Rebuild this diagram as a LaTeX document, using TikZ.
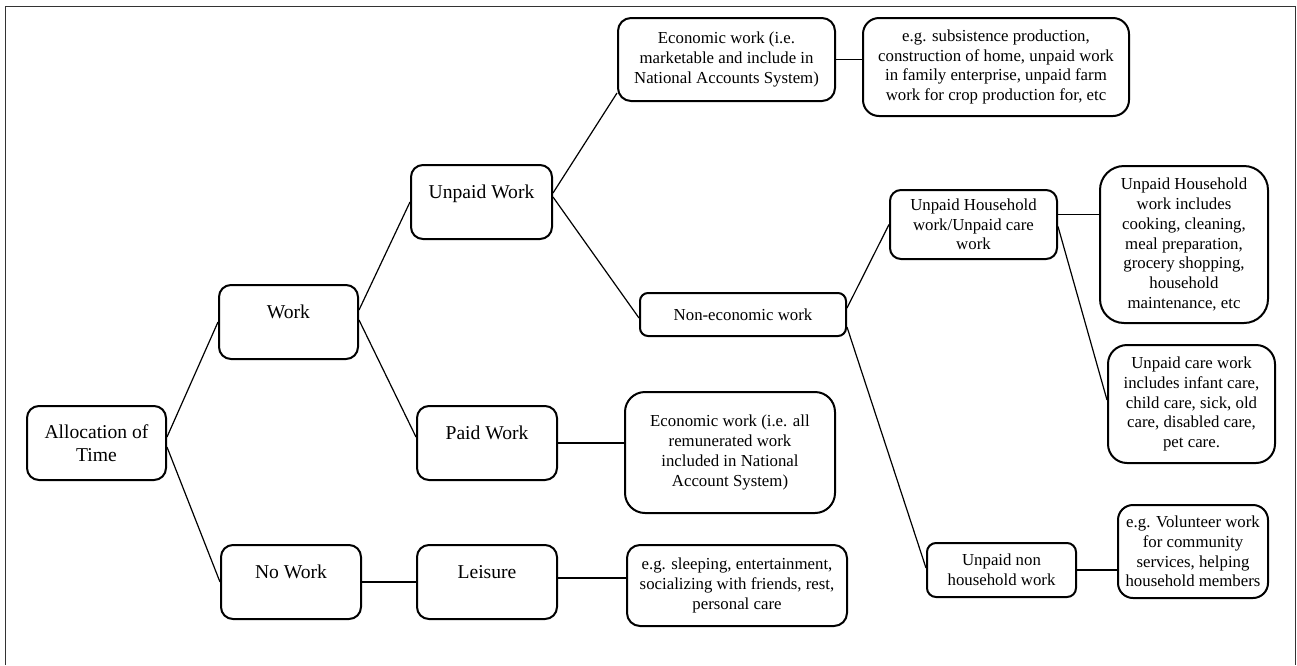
\documentclass[tikz,border=0pt]{standalone}
\usepackage{fontspec}
\setmainfont{Liberation Serif}
\begin{document}
\begin{tikzpicture}[x=0.5pt,y=-0.5pt,
  box/.style={draw, line width=1pt, inner sep=0pt, align=center},
  big/.style={font=\fontsize{9.8pt}{11.65pt}\selectfont},
  small/.style={font=\fontsize{8.4pt}{9.85pt}\selectfont},
  hi/.style={text height=6.7pt, text depth=10.3pt},
  conn/.style={line width=0.6pt}]
\useasboundingbox (0,0) rectangle (1297,665);
\draw[line width=0.5pt, black!80] (5.5,665) -- (5.5,6) -- (1295,6) -- (1295,665);

% main category boxes
\node[box,big,minimum width=69.5pt,minimum height=37pt,rounded corners=6pt] (alloc) at (96.5,443) {Allocation of\\Time};
\node[box,big,hi,minimum width=69.5pt,minimum height=37pt,rounded corners=6pt] (work) at (288.5,322) {Work};
\node[box,big,hi,minimum width=70pt,minimum height=37pt,rounded corners=6pt] (nowork) at (291,582) {No Work};
\node[box,big,hi,minimum width=70.5pt,minimum height=37pt,rounded corners=6pt] (unpaid) at (481.5,202) {Unpaid Work};
\node[box,big,hi,minimum width=70pt,minimum height=37pt,rounded corners=6pt] (paid) at (487,443) {Paid Work};
\node[box,big,hi,minimum width=70pt,minimum height=37pt,rounded corners=6pt] (leisure) at (487,582) {Leisure};

% detail boxes
\node[box,small,minimum width=108.5pt,minimum height=41.5pt,rounded corners=6.5pt] (econ) at (726.5,59.5) {Economic work (i.e.\\marketable and include in\\National Accounts System)};
\node[box,small,minimum width=133pt,minimum height=49pt,rounded corners=8pt] (egsub) at (996,67) {e.g. subsistence production,\\construction of home, unpaid work\\in family enterprise, unpaid farm\\work for crop production for, etc};
\node[box,small,minimum width=103pt,minimum height=21.5pt,rounded corners=4pt] (noneco) at (743,314.5) {Non-economic work};
\node[box,small,minimum width=105pt,minimum height=60.5pt,rounded corners=10pt] (econall) at (730,452.5) {Economic work (i.e. all\\remunerated work\\included in National\\Account System)};
\node[box,small,minimum width=110pt,minimum height=40.5pt,rounded corners=6.5pt] (sleep) at (737,585.5) {e.g. sleeping, entertainment,\\socializing with friends, rest,\\personal care};
\node[box,small,minimum width=83.5pt,minimum height=34.5pt,rounded corners=5.5pt] (uh) at (973.5,224.5) {Unpaid Household\\work/Unpaid care\\work};
\node[box,small,minimum width=84pt,minimum height=78.5pt,rounded corners=12pt] (uhinc) at (1184,244.5) {Unpaid Household\\work includes\\cooking, cleaning,\\meal preparation,\\grocery shopping,\\household\\maintenance, etc};
\node[box,small,minimum width=83.5pt,minimum height=59pt,rounded corners=9.5pt] (ucare) at (1191.5,404) {Unpaid care work\\includes infant care,\\child care, sick, old\\care, disabled care,\\pet care.};
\node[box,small,minimum width=74.5pt,minimum height=27pt,rounded corners=4.5pt] (unh) at (1001.5,570) {Unpaid non\\household work};
\node[box,small,minimum width=75pt,minimum height=46.5pt,rounded corners=7.5pt] (vol) at (1193,551.5) {e.g. Volunteer work\\for community\\services, helping\\household members};

% connectors
\draw[conn] ([yshift=3pt]alloc.east) -- (work.west);
\draw[conn] ([yshift=-2pt]alloc.east) -- (nowork.west);
\draw[conn] ([yshift=6pt]work.east) -- (unpaid.west);
\draw[conn] ([yshift=1pt]work.east) -- ([yshift=3pt]paid.west);
\draw[conn] ([yshift=4.5pt]unpaid.east) -- ([yshift=-16.75pt]econ.west);
\draw[conn] ([yshift=2.5pt]unpaid.east) -- ([yshift=-1.75pt]noneco.west);
\draw[conn] (econ.east) -- (econ.east -| egsub.west);
\draw[conn] ([yshift=3.25pt]noneco.east) -- (uh.west);
\draw[conn] ([yshift=-6.25pt]noneco.east) -- ([yshift=1pt]unh.west);
\draw[conn] ([yshift=5pt]uh.east) -- ([yshift=5pt]uh.east -| uhinc.west);
\draw[conn] ([yshift=-1pt]uh.east) -- ([yshift=2pt]ucare.west);
\draw[conn] (paid.east) -- (paid.east -| econall.west);
\draw[conn] (nowork.east) -- (nowork.east -| leisure.west);
\draw[conn] ([yshift=2pt]leisure.east) -- ([yshift=2pt]leisure.east -| sleep.west);
\draw[conn] (unh.east) -- (unh.east -| vol.west);
\end{tikzpicture}
\end{document}
